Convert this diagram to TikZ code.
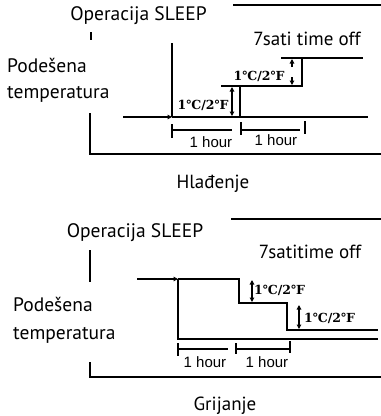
\documentclass[tikz,border=0pt]{standalone}
\usepackage{fontspec}
\setmainfont{PT Sans}
\newfontfamily\degfont{DejaVu Serif}
\newfontfamily\hourfont{Liberation Sans}
\usetikzlibrary{arrows.meta}
\begin{document}
\begin{tikzpicture}[x=1pt,y=-1pt,
  lbl/.style={inner sep=0pt,anchor=base,font=\fontsize{19}{19}\selectfont},
  ttl/.style={inner sep=0pt,anchor=base,font=\fontsize{19.5}{19.5}\selectfont},
  side/.style={inner sep=0pt,anchor=base west,font=\fontsize{19.5}{19.5}\selectfont},
  deg/.style={inner sep=0pt,anchor=base,font=\degfont\bfseries\fontsize{12.5}{12.5}\selectfont},
  hr/.style={inner sep=0pt,anchor=base,font=\hourfont\fontsize{15}{15}\selectfont},
  frame/.style={line width=1.8pt},
  curve/.style={line width=1.6pt},
  dim/.style={line width=1.1pt},
  tip/.style={-{Triangle[length=4.5pt,width=4.5pt]}},
  tips/.style={{Triangle[length=4.5pt,width=4.5pt]}-{Triangle[length=4.5pt,width=4.5pt]}}]
\useasboundingbox (0,0) rectangle (381,416);
% ===== Top: cooling =====
\node[ttl] (t1) at (138.5,20) {Operacija SLEEP};
\node[lbl] (off1) at (307,45) {7sati time off};
\node[side] (p1) at (7,72) {Podešena};
\node[side] (q1) at (7,98) {temperatura};
\node[lbl] (h1) at (213,188) {Hlađenje};
\coordinate (fa1) at (233,5); \coordinate (fb1) at (381,5);
\draw[frame] (fa1) -- (fb1);
\coordinate (tk1a) at (91,32); \coordinate (tk1b) at (91,40);
\draw[frame] (tk1a) -- (tk1b);
\coordinate (l1a) at (90,113); \coordinate (l1b) at (90,154); \coordinate (l1c) at (381,154);
\draw[frame] (l1a) -- (l1b) -- (l1c);
\coordinate (ax1a) at (172,43); \coordinate (ax1b) at (172,117);
\draw[curve] (ax1a) -- (ax1b);
\coordinate (ar1) at (123,117);
\draw[curve,tip] (ar1) -- (ax1b);
\coordinate (bl1) at (368,117);
\draw[curve] (ax1b) -- (bl1);
\coordinate (s1a) at (240,117); \coordinate (s1b) at (240,86);
\coordinate (s1c) at (221,86); \coordinate (s1d) at (302,86);
\coordinate (s1e) at (302,58); \coordinate (s1f) at (281,58); \coordinate (s1g) at (363,58);
\draw[curve] (s1a) -- (s1b);
\draw[curve] (s1c) -- (s1d) -- (s1e);
\draw[curve] (s1f) -- (s1g);
\coordinate (d1a) at (232,87); \coordinate (d1b) at (232,116);
\draw[dim,tips] (d1a) -- (d1b);
\node[deg] (c1) at (203,109) {1℃/2℉};
\coordinate (d2a) at (292,67); \coordinate (d2b) at (292,59);
\coordinate (d2c) at (292,77); \coordinate (d2d) at (292,85);
\draw[dim,tip] (d2a) -- (d2b);
\draw[dim,tip] (d2c) -- (d2d);
\node[deg] (c2) at (259,80) {1℃/2℉};
\coordinate (m1a) at (172,124); \coordinate (m1b) at (172,138);
\coordinate (m1c) at (172,130); \coordinate (m1d) at (232,130);
\coordinate (m1e) at (241,122); \coordinate (m1f) at (241,135);
\coordinate (m1g) at (241,130); \coordinate (m1h) at (300,130);
\coordinate (m1i) at (305,121); \coordinate (m1j) at (305,134);
\draw[dim] (m1a) -- (m1b) (m1c) -- (m1d) (m1e) -- (m1f) (m1g) -- (m1h) (m1i) -- (m1j);
\node[hr] (hr1) at (211,147) {1 hour};
\node[hr] (hr2) at (276,145) {1 hour};
% ===== Bottom: heating =====
\node[ttl] (t2) at (135,237) {Operacija SLEEP};
\node[lbl] (off2) at (310,258) {7satitime off};
\node[side] (p2) at (13,311) {Podešena};
\node[side] (q2) at (13,339) {temperatura};
\node[lbl] (h2) at (225,410) {Grijanje};
\coordinate (fa2) at (231,219); \coordinate (fb2) at (381,219);
\draw[frame] (fa2) -- (fb2);
\coordinate (tk2a) at (90,250); \coordinate (tk2b) at (90,282);
\draw[frame] (tk2a) -- (tk2b);
\coordinate (l2a) at (90,362); \coordinate (l2b) at (90,377); \coordinate (l2c) at (381,377);
\draw[frame] (l2a) -- (l2b) -- (l2c);
\coordinate (ar2) at (137,279); \coordinate (ax2a) at (178,279);
\draw[curve,tip] (ar2) -- (ax2a);
\coordinate (ax2b) at (178,339); \coordinate (bl2) at (378,339);
\draw[curve] (ax2a) -- (ax2b) -- (bl2);
\coordinate (s2a) at (239,279); \coordinate (s2b) at (239,303);
\coordinate (s2c) at (287,303); \coordinate (s2d) at (287,330); \coordinate (s2e) at (378,330);
\draw[curve] (ax2a) -- (s2a) -- (s2b) -- (s2c) -- (s2d) -- (s2e);
\coordinate (d3a) at (252,280); \coordinate (d3b) at (252,302);
\draw[dim,tips] (d3a) -- (d3b);
\node[deg,anchor=base west] (c3) at (254,294) {1℃/2℉};
\coordinate (d4a) at (299,305); \coordinate (d4b) at (299,329);
\draw[dim,tips] (d4a) -- (d4b);
\node[deg,anchor=base west] (c4) at (304,322) {1℃/2℉};
\coordinate (m2a) at (178,343); \coordinate (m2b) at (178,356);
\coordinate (m2c) at (178,349); \coordinate (m2d) at (228,349);
\coordinate (m2e) at (236,343); \coordinate (m2f) at (236,354);
\coordinate (m2g) at (236,349); \coordinate (m2h) at (290,349);
\coordinate (m2i) at (290,341); \coordinate (m2j) at (290,353);
\draw[dim] (m2a) -- (m2b) (m2c) -- (m2d) (m2e) -- (m2f) (m2g) -- (m2h) (m2i) -- (m2j);
\node[hr] (hr3) at (205,367) {1 hour};
\node[hr] (hr4) at (267,367) {1 hour};
\end{tikzpicture}
\end{document}
